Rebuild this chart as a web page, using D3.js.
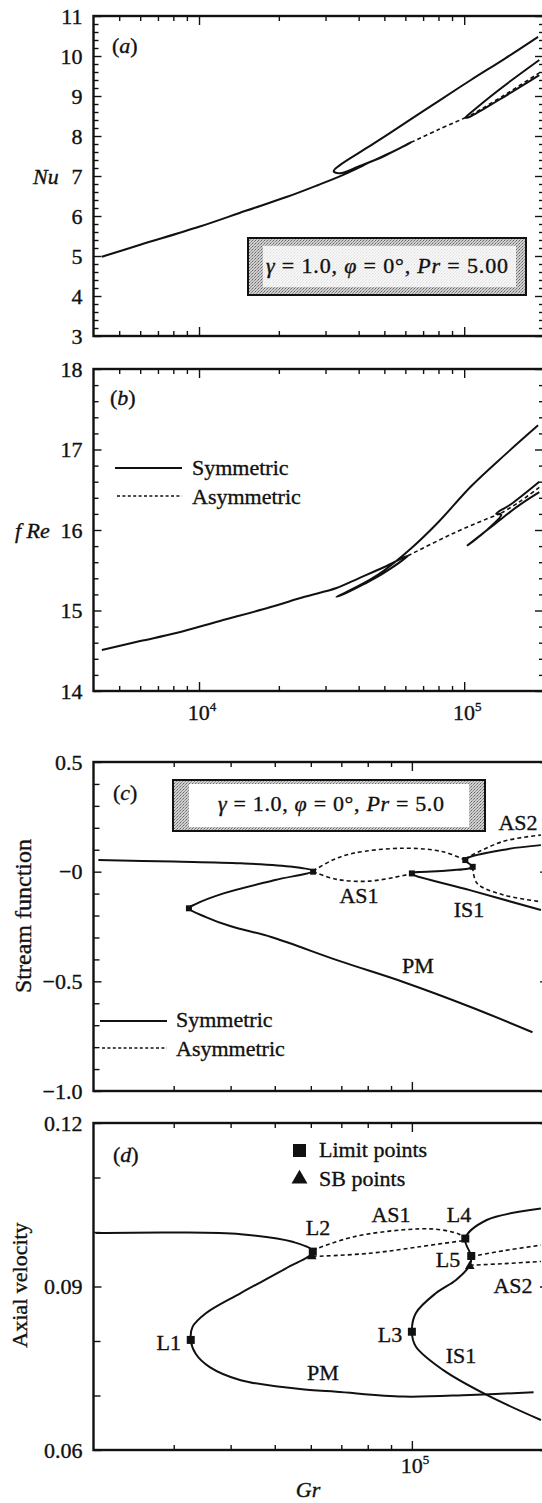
<!DOCTYPE html>
<html>
<head>
<meta charset="utf-8">
<script src="https://cdn.jsdelivr.net/npm/d3@7"></script>
<style>
  html, body { margin: 0; padding: 0; background: #fff; }
  svg { display: block; }
</style>
</head>
<body>
<div id="chart"></div>
<script>
const W = 542, H = 1503;
const FONT = '"Liberation Serif", "Times New Roman", "DejaVu Serif", serif';
const INK = "#111";

// ---- tick values ----
const grMinorAB = [5e3, 6e3, 7e3, 8e3, 9e3, 2e4, 3e4, 4e4, 5e4, 6e4, 7e4, 8e4, 9e4];
const grMajorAB = [1e4, 1e5];
const grLabelsB = [1e4, 1e5];
const grMinorCD = [3e4, 4e4, 5e4, 6e4, 7e4, 8e4, 9e4];
const grMajorCD = [1e5];
const nuTicks = [3, 4, 5, 6, 7, 8, 9, 10, 11];
const freTicks = [14, 15, 16, 17, 18];
const psiTicks = [-1.0, -0.5, 0, 0.5];
const psiLabels = ["\u22121.0", "\u22120.5", "\u22120", "0.5"];
const velTicks = [0.06, 0.09, 0.12];
const velLabels = ["0.06", "0.09", "0.12"];

// ---- (a) Nusselt number vs Gr ----
const nuSym = [[4.3e3, 4.98], [6e3, 5.28], [1e4, 5.73], [1.5e4, 6.13], [2.15e4, 6.48], [2.8e4, 6.77],
  [3.5e4, 7.03], [4.5e4, 7.37], [5.5e4, 7.64], [6.3e4, 7.84], [5e4, 7.5], [4e4, 7.24], [3.4e4, 7.07],
  [3.22e4, 7.12], [3.38e4, 7.26], [4.46e4, 7.77], [6.3e4, 8.42], [7.95e4, 8.86], [1.06e5, 9.4],
  [1.42e5, 9.93], [1.9e5, 10.48]];
const nuAS1 = [[6.3e4, 7.84], [8e4, 8.16], [1.02e5, 8.47]];
const nuIS = [[1.92e5, 9.9], [1.5e5, 9.38], [1.22e5, 8.92], [1.05e5, 8.56], [1.01e5, 8.46],
  [1.04e5, 8.47], [1.35e5, 8.9], [1.92e5, 9.52]];
const nuAS2 = [[1.06e5, 8.52], [1.4e5, 9.0], [1.92e5, 9.58]];

// ---- (b) fRe vs Gr ----
const freSym = [[4.3e3, 14.51], [6e3, 14.62], [8.2e3, 14.72], [1.2e4, 14.87], [1.85e4, 15.04],
  [2.5e4, 15.17], [3.3e4, 15.28], [4e4, 15.4], [5e4, 15.54], [6.13e4, 15.68],
  [5e4, 15.47], [4.2e4, 15.33], [3.6e4, 15.22], [3.3e4, 15.17],
  [3.45e4, 15.2], [4.4e4, 15.38], [5e4, 15.5], [6.3e4, 15.77], [8e4, 16.1], [1.06e5, 16.54],
  [1.42e5, 16.93], [1.9e5, 17.3]];
const freAS1 = [[6.13e4, 15.68], [8e4, 15.87], [1.0e5, 16.02], [1.38e5, 16.21]];
const freIS = [[1.92e5, 16.6], [1.5e5, 16.32], [1.32e5, 16.2], [1.38e5, 16.19], [1.2e5, 15.98],
  [1.03e5, 15.81], [1.3e5, 16.07], [1.6e5, 16.3], [1.92e5, 16.47]];
const freAS2 = [[1.38e5, 16.21], [1.6e5, 16.34], [1.92e5, 16.53]];

// ---- (c) stream function vs Gr ----
const psiSym = [[2.05e4, 0.053], [3e4, 0.046], [4.21e4, 0.038], [5.47e4, 0.022], [6.07e4, 0.003],
  [5.01e4, -0.038], [3.86e4, -0.099], [3.35e4, -0.148], [3.24e4, -0.167], [3.53e4, -0.207],
  [3.99e4, -0.248], [4.91e4, -0.298], [6.95e4, -0.408], [9.61e4, -0.504], [1.35e5, -0.618],
  [1.84e5, -0.732]];
const psiAS1a = [[6.07e4, 0.003], [6.7e4, 0.053], [7.43e4, 0.084], [9.57e4, 0.107], [1.17e5, 0.091], [1.31e5, 0.053]];
const psiAS1b = [[6.07e4, 0.0], [6.84e4, -0.035], [8.09e4, -0.043], [9.9e4, -0.011]];
const psiIS = [[1.92e5, 0.121], [1.58e5, 0.099], [1.31e5, 0.053], [1.36e5, 0.022], [1.2e5, 0.005],
  [1.0e5, -0.008], [1.34e5, -0.084], [1.92e5, -0.175]];
const psiAS2a = [[1.31e5, 0.06], [1.58e5, 0.137], [1.92e5, 0.167]];
const psiAS2b = [[1.36e5, 0.02], [1.39e5, -0.053], [1.59e5, -0.106], [1.92e5, -0.137]];
const psiLimit = [[3.24e4, -0.167], [6.07e4, 0.0], [1.0e5, -0.008], [1.31e5, 0.053], [1.36e5, 0.022]];

// ---- (d) axial velocity vs Gr ----
const velSym = [[2.02e4, 0.0998], [3e4, 0.0999], [4.21e4, 0.0996], [5.47e4, 0.0982], [6.07e4, 0.0964],
  [5.28e4, 0.0933], [4.21e4, 0.0888], [3.53e4, 0.0851], [3.3e4, 0.0826], [3.27e4, 0.0802],
  [3.35e4, 0.0777], [3.6e4, 0.0752], [4.21e4, 0.0728], [5.97e4, 0.071], [6.83e4, 0.0707],
  [9.57e4, 0.0698], [1.34e5, 0.0701], [1.85e5, 0.0706]];
const velIS = [[1.92e5, 0.1043], [1.46e5, 0.1022], [1.31e5, 0.0988], [1.35e5, 0.0955], [1.34e5, 0.0939],
  [1.25e5, 0.0912], [1.13e5, 0.0888], [1.02e5, 0.0851], [1.0e5, 0.0817], [1.02e5, 0.079],
  [1.17e5, 0.0747], [1.46e5, 0.0701], [1.92e5, 0.0655]];
const velAS1a = [[6.06e4, 0.0967], [7.43e4, 0.0991], [9.57e4, 0.1004], [1.13e5, 0.1005], [1.27e5, 0.0996], [1.31e5, 0.0988]];
const velAS1b = [[6.06e4, 0.0955], [8.09e4, 0.0961], [1.04e5, 0.0973], [1.29e5, 0.0984]];
const velAS2a = [[1.35e5, 0.0955], [1.6e5, 0.0966], [1.92e5, 0.0976]];
const velAS2b = [[1.34e5, 0.0939], [1.6e5, 0.0942], [1.92e5, 0.0946]];
const velLimit = [[3.27e4, 0.0802], [6.06e4, 0.0964], [1.0e5, 0.0817], [1.31e5, 0.0988], [1.35e5, 0.0956]];
const velSB = [[6.03e4, 0.0957], [1.34e5, 0.0939]];

const svg = d3.select("#chart").append("svg")
    .attr("width", W)
    .attr("height", H)
    .style("background", "#fff");

const defs = svg.append("defs");

// stippled grey for the parameter boxes
const pat = defs.append("pattern")
    .attr("id", "stipple")
    .attr("width", 3).attr("height", 3)
    .attr("patternUnits", "userSpaceOnUse");
pat.append("rect").attr("width", 3).attr("height", 3).attr("fill", "#cfcfcf");
pat.append("rect").attr("x", 0).attr("y", 0).attr("width", 1).attr("height", 1).attr("fill", "#666");
pat.append("rect").attr("x", 2).attr("y", 1).attr("width", 1).attr("height", 1).attr("fill", "#888");
pat.append("rect").attr("x", 1).attr("y", 2).attr("width", 1).attr("height", 1).attr("fill", "#999");

// a thin outline makes the serif text look as heavy as the printed figure
function ink(sel) {
    return sel.attr("fill", INK).attr("stroke", INK).attr("stroke-width", 0.35);
}

function txt(g, x, y, str, opt = {}) {
    return g.append("text")
        .attr("x", x).attr("y", y)
        .attr("font-family", FONT)
        .attr("font-size", opt.size || 22)
        .attr("font-style", opt.italic ? "italic" : null)
        .attr("text-anchor", opt.anchor || "start")
        .call(ink)
        .text(str);
}

function minorTicks(lo, hi, step, majors) {
    return d3.range(Math.round((hi - lo) / step) + 1)
        .map(i => +(lo + i * step).toFixed(4))
        .filter(v => !majors.some(m => Math.abs(m - v) < step / 10));
}

let clipId = 0;
function makePanel(cfg) {
    const x = d3.scaleLog().domain(cfg.gr).range([cfg.left, cfg.right]);
    const y = d3.scaleLinear().domain(cfg.val).range([cfg.bottom, cfg.top]);
    const g = svg.append("g");

    const tick = (axis, values, len, tx, ty) => g.append("g")
        .attr("transform", `translate(${tx},${ty})`)
        .call(axis.tickValues(values).tickSize(-len).tickFormat(""))
        .call(s => s.select(".domain").remove())
        .call(s => s.selectAll("line").attr("stroke", INK).attr("stroke-width", 1.4));

    const yMinor = minorTicks(cfg.val[0], cfg.val[1], cfg.yStep, cfg.yMajor);
    tick(d3.axisTop(x), cfg.grMinor, 5, 0, cfg.top);
    tick(d3.axisTop(x), cfg.grMajor, 9, 0, cfg.top);
    tick(d3.axisBottom(x), cfg.grMinor, 5, 0, cfg.bottom);
    tick(d3.axisBottom(x), cfg.grMajor, 9, 0, cfg.bottom);
    tick(d3.axisLeft(y), yMinor, cfg.minorLen || 5, cfg.left, 0);
    tick(d3.axisLeft(y), cfg.yMajor, 8, cfg.left, 0);
    tick(d3.axisRight(y), yMinor, 5, cfg.right, 0);
    tick(d3.axisRight(y), cfg.yMajor, 9, cfg.right, 0);

    // tick labels on the left
    g.append("g")
        .attr("transform", `translate(${cfg.left},0)`)
        .call(d3.axisLeft(y).tickValues(cfg.yMajor).tickSize(0).tickPadding(11)
            .tickFormat((d, i) => cfg.yLabels[i]))
        .call(s => s.select(".domain").remove())
        .call(s => s.selectAll("text")
            .attr("font-family", FONT).attr("font-size", 22).call(ink));

    g.append("rect")
        .attr("x", cfg.left).attr("y", cfg.top)
        .attr("width", cfg.right - cfg.left).attr("height", cfg.bottom - cfg.top)
        .attr("fill", "none").attr("stroke", INK).attr("stroke-width", 2.4);

    const id = "clip" + (clipId++);
    defs.append("clipPath").attr("id", id).append("rect")
        .attr("x", cfg.left).attr("y", cfg.top)
        .attr("width", cfg.right - cfg.left).attr("height", cfg.bottom - cfg.top);
    const plot = g.append("g").attr("clip-path", `url(#${id})`);

    const line = d3.line()
        .x(d => x(d[0])).y(d => y(d[1]))
        .curve(d3.curveCatmullRom.alpha(0.5));

    const draw = (data, dashed) => plot.append("path")
        .datum(data)
        .attr("d", line)
        .attr("fill", "none")
        .attr("stroke", INK)
        .attr("stroke-width", dashed ? 1.6 : 2)
        .attr("stroke-dasharray", dashed ? "4 3" : null)
        .attr("stroke-linejoin", "round");

    return { x, y, g, plot, draw };
}

function paramBox(g, x0, y0, x1, y1, ins, cx, base, size, tail, len) {
    g.append("rect").attr("x", x0).attr("y", y0).attr("width", x1 - x0).attr("height", y1 - y0)
        .attr("fill", "url(#stipple)").attr("stroke", INK).attr("stroke-width", 2);
    g.append("rect").attr("x", x0 + ins[0]).attr("y", y0 + ins[1])
        .attr("width", x1 - x0 - ins[0] - ins[2]).attr("height", y1 - y0 - ins[1] - ins[3])
        .attr("fill", "#fff").attr("opacity", ins[4]);
    const t = g.append("text").attr("x", cx).attr("y", base)
        .attr("font-family", FONT).attr("font-size", size)
        .attr("text-anchor", "middle").call(ink)
        .attr("textLength", len).attr("lengthAdjust", "spacing");
    [["\u03B3", true], [" = 1.0, ", false], ["\u03C6", true], [" = 0\u00B0, ", false],
     ["Pr", true], [" = " + tail, false]].forEach(([s, it]) => {
        t.append("tspan").attr("font-style", it ? "italic" : null).text(s);
    });
}

function panelLabel(g, x, y, letter) {
    const t = g.append("text").attr("x", x).attr("y", y)
        .attr("font-family", FONT).attr("font-size", 22).call(ink);
    t.append("tspan").text("(");
    t.append("tspan").attr("font-style", "italic").text(letter);
    t.append("tspan").text(")");
}

function powerLabel(g, x, y, exp) {
    const t = g.append("text").attr("x", x).attr("y", y)
        .attr("font-family", FONT).attr("font-size", 22).attr("text-anchor", "middle").call(ink);
    t.append("tspan").text("10");
    t.append("tspan").attr("dy", -9).attr("font-size", 13).text(exp);
}

function legendLines(g, x0, x1, tx, yS, yA, bS, bA) {
    g.append("line").attr("x1", x0).attr("x2", x1).attr("y1", yS).attr("y2", yS)
        .attr("stroke", INK).attr("stroke-width", 2);
    g.append("line").attr("x1", x0 + 2).attr("x2", x1).attr("y1", yA).attr("y2", yA)
        .attr("stroke", INK).attr("stroke-width", 1.4).attr("stroke-dasharray", "3 2.4");
    txt(g, tx, bS, "Symmetric");
    txt(g, tx, bA, "Asymmetric");
}

// ================= (a) =================
const pa = makePanel({
    gr: [4e3, 2e5], val: [3, 11], left: 93.5, right: 544, top: 16, bottom: 336,
    grMinor: grMinorAB, grMajor: grMajorAB, yMajor: nuTicks, yLabels: nuTicks.map(String), yStep: 0.2
});
pa.draw(nuSym);
pa.draw(nuIS);
pa.draw(nuAS1, true);
pa.draw(nuAS2, true);
panelLabel(pa.g, 112, 53, "a");
txt(pa.g, 33, 184, "Nu", { italic: true });
paramBox(pa.g, 248, 238, 526, 295, [15, 8, 10, 8, 0.8], 387, 273, 22, "5.00", 242);

// ================= (b) =================
const pb = makePanel({
    gr: [4e3, 2e5], val: [14, 18], left: 93.5, right: 544, top: 369, bottom: 691,
    grMinor: grMinorAB, grMajor: grMajorAB, yMajor: freTicks, yLabels: freTicks.map(String), yStep: 0.2
});
pb.draw(freSym);
pb.draw(freIS);
pb.draw(freAS1, true);
pb.draw(freAS2, true);
panelLabel(pb.g, 110, 405, "b");
txt(pb.g, 15, 538, "f Re", { italic: true });
legendLines(pb.g, 115, 182, 192, 468, 496, 475, 504);
grLabelsB.forEach((v, i) => powerLabel(pb.g, pb.x(v) + 3, 720, i === 0 ? "4" : "5"));

// ================= (c) =================
const pc = makePanel({
    gr: [2e4, 2e5], val: [-1, 0.5], left: 93.5, right: 549, top: 762, bottom: 1091,
    grMinor: grMinorCD, grMajor: grMajorCD, yMajor: psiTicks, yLabels: psiLabels, yStep: 0.1,
    minorLen: 6
});
pc.draw(psiSym);
pc.draw(psiIS);
pc.draw(psiAS1a, true);
pc.draw(psiAS1b, true);
pc.draw(psiAS2a, true);
pc.draw(psiAS2b, true);
pc.plot.selectAll(".lim").data(psiLimit).enter().append("rect")
    .attr("x", d => pc.x(d[0]) - 3).attr("y", d => pc.y(d[1]) - 3)
    .attr("width", 6).attr("height", 6).attr("fill", INK);
panelLabel(pc.g, 113, 800, "c");
paramBox(pc.g, 173, 780, 485, 831, [16, 4, 16, 4, 1], 331, 811, 22, "5.0", 226);
txt(pc.g, 359, 903, "AS1", { anchor: "middle" });
txt(pc.g, 469, 917, "IS1", { anchor: "middle" });
txt(pc.g, 418, 973, "PM", { anchor: "middle" });
txt(pc.g, 518, 830, "AS2", { anchor: "middle" });
legendLines(pc.g, 100, 167, 176, 1021, 1048, 1027, 1056);
txt(pc.g, 0, 0, "Stream function", { anchor: "middle", size: 24 })
    .attr("transform", "translate(31,916) rotate(-90)")
    .attr("x", null).attr("y", null);

// ================= (d) =================
const pd = makePanel({
    gr: [2e4, 2e5], val: [0.06, 0.12], left: 93.5, right: 549, top: 1123, bottom: 1450,
    grMinor: grMinorCD, grMajor: grMajorCD, yMajor: velTicks, yLabels: velLabels, yStep: 0.01,
    minorLen: 7
});
pd.draw(velSym);
pd.draw(velIS);
pd.draw(velAS1a, true);
pd.draw(velAS1b, true);
pd.draw(velAS2a, true);
pd.draw(velAS2b, true);
pd.plot.selectAll(".lim").data(velLimit).enter().append("rect")
    .attr("x", d => pd.x(d[0]) - 4).attr("y", d => pd.y(d[1]) - 4)
    .attr("width", 8).attr("height", 8).attr("fill", INK);
const tri = d3.symbol().type(d3.symbolTriangle).size(40);
pd.plot.selectAll(".sb").data(velSB).enter().append("path")
    .attr("d", tri)
    .attr("transform", d => `translate(${pd.x(d[0])},${pd.y(d[1]) + 1})`)
    .attr("fill", INK);
panelLabel(pd.g, 113, 1162, "d");
// legend for markers
pd.g.append("rect").attr("x", 293).attr("y", 1144).attr("width", 13).attr("height", 13).attr("fill", INK);
txt(pd.g, 319, 1157, "Limit points");
pd.g.append("path").attr("d", d3.symbol().type(d3.symbolTriangle).size(110))
    .attr("transform", "translate(299.5,1179)").attr("fill", INK);
txt(pd.g, 319, 1186, "SB points");
txt(pd.g, 181, 1350, "L1", { anchor: "end" });
txt(pd.g, 318, 1235, "L2", { anchor: "middle" });
txt(pd.g, 391, 1222, "AS1", { anchor: "middle" });
txt(pd.g, 459, 1222, "L4", { anchor: "middle" });
txt(pd.g, 448, 1267, "L5", { anchor: "middle" });
txt(pd.g, 513, 1293, "AS2", { anchor: "middle" });
txt(pd.g, 390, 1342, "L3", { anchor: "middle" });
txt(pd.g, 461, 1363, "IS1", { anchor: "middle" });
txt(pd.g, 323, 1380, "PM", { anchor: "middle" });
txt(pd.g, 0, 0, "Axial velocity", { anchor: "middle", size: 22 })
    .attr("transform", "translate(27,1285) rotate(-90)")
    .attr("x", null).attr("y", null);
grMajorCD.forEach(v => powerLabel(pd.g, pd.x(v) + 3, 1473, "5"));
txt(pd.g, 308, 1497, "Gr", { italic: true, anchor: "middle" });
</script>
</body>
</html>
